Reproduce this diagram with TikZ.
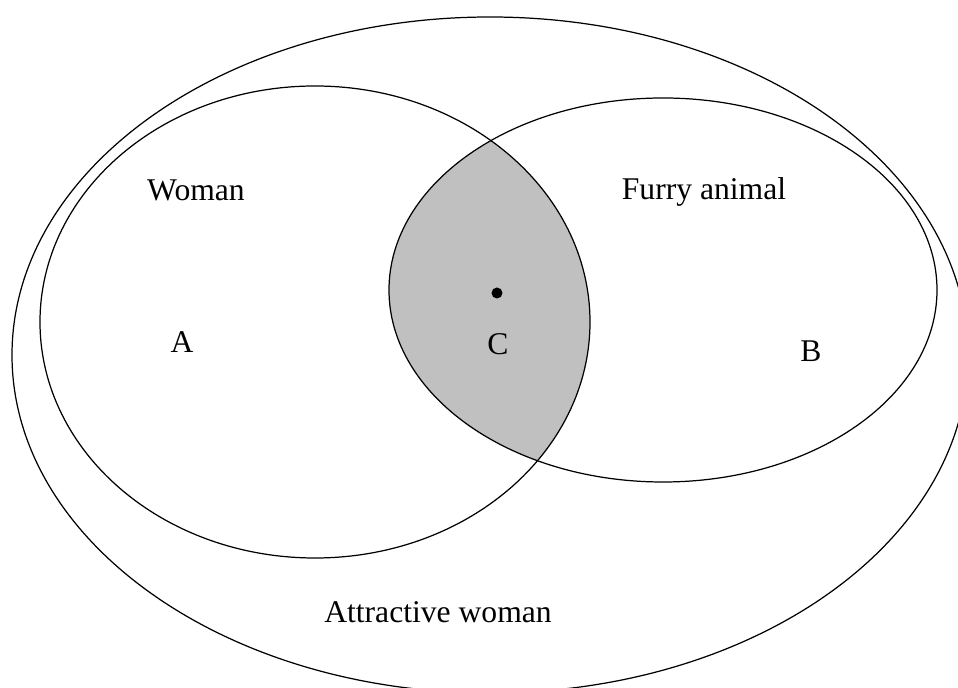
\documentclass[tikz,border=0pt]{standalone}
\usepackage{fontspec}
\setmainfont{Liberation Serif}
\usetikzlibrary{positioning}
\definecolor{cshade}{HTML}{C0C0C0}
\tikzset{
  every picture/.style={line width=0.7pt},
  setline/.style={draw=black, line width=0.7pt},
  tag/.style={font=\fontsize{18}{20}\selectfont, inner sep=0pt},
}

\begin{document}
\begin{tikzpicture}[x=0.02cm, y=-0.02cm]
  \clip (0,0) rectangle (958,688);
  % shaded overlap of the two sets
  \begin{scope}
    \clip (315,322) ellipse [x radius=275, y radius=236];
    \fill[cshade] (663,290) ellipse [x radius=274, y radius=192];
  \end{scope}
  \draw[setline] (490,355) ellipse [x radius=478, y radius=338];
  \draw[setline] (315,322) ellipse [x radius=275, y radius=236];
  \draw[setline] (663,290) ellipse [x radius=274, y radius=192];
  \fill (497,293) circle (5.5);
  \node[tag] (woman) at (196,190) {Woman};
  \node[tag] (furry) at (704,192) {Furry animal};
  \node[tag] (attr) at (438,612) {Attractive woman};
  \node[tag] (a) at (182,342) {A};
  \node[tag] (c) at (498,344) {C};
  \node[tag] (b) at (811,351) {B};
\end{tikzpicture}
\end{document}
